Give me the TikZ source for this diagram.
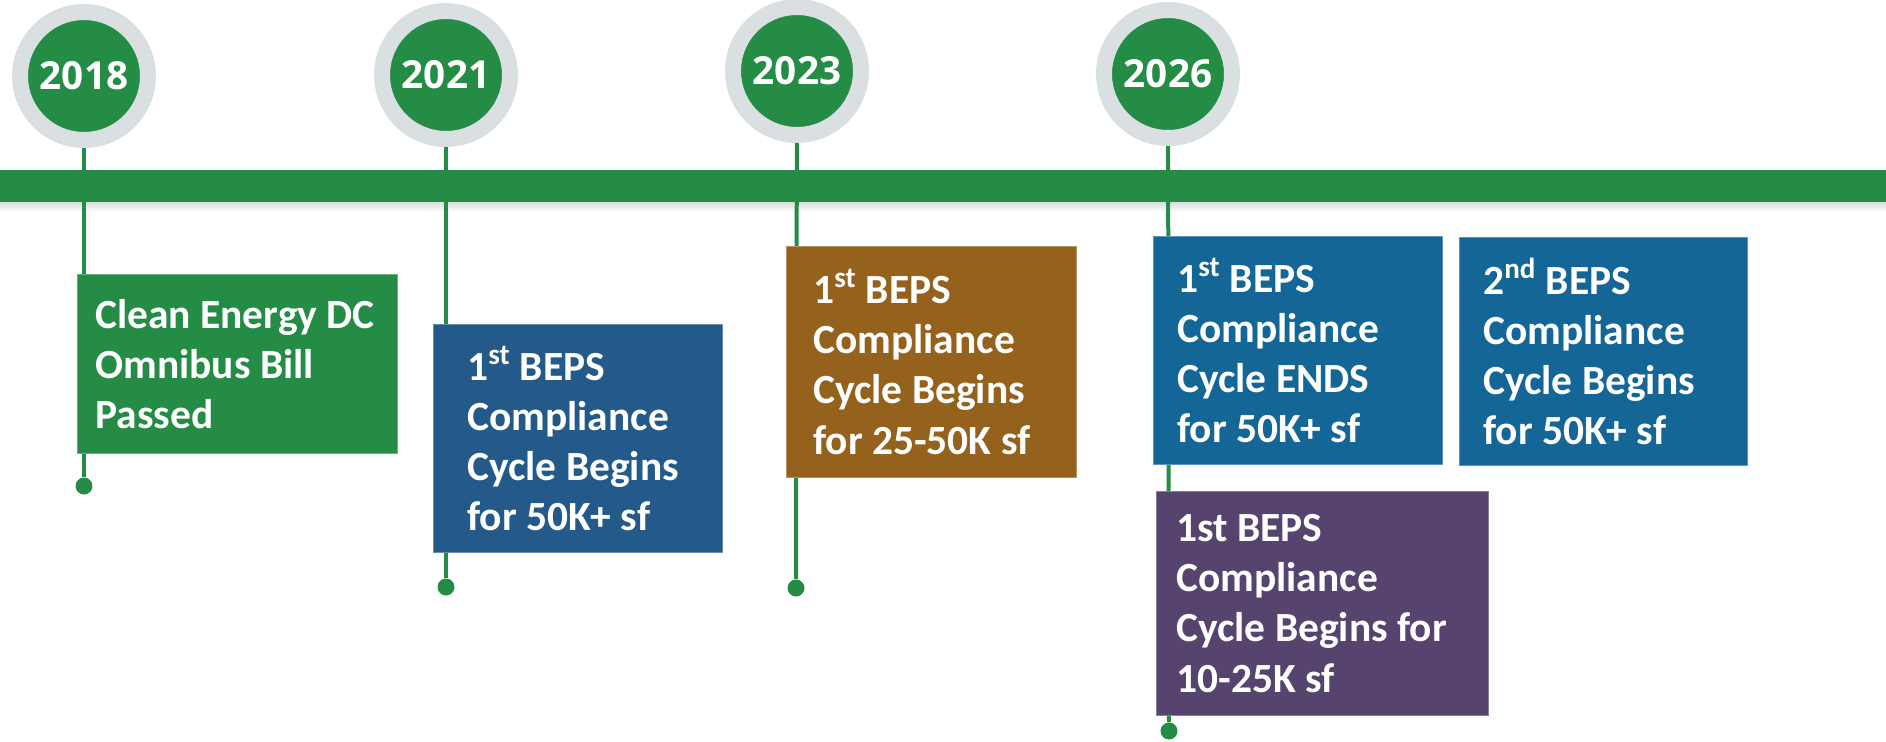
\documentclass[tikz,border=0pt]{standalone}
\usepackage{fontspec}
\setmainfont{Carlito}
\newfontfamily\yearfont{Open Sans}
\usepackage{tikz}
\usetikzlibrary{positioning, backgrounds}

\definecolor{tlgreen}{HTML}{258C45}
\definecolor{ringgray}{HTML}{DADFE1}
\definecolor{evblue}{HTML}{245A8A}
\definecolor{evbrown}{HTML}{95621D}
\definecolor{evsky}{HTML}{146697}
\definecolor{evpurple}{HTML}{56446F}

\begin{document}
\begin{tikzpicture}[x=0.02cm, y=-0.02cm,
  year/.style={circle, fill=tlgreen, draw=ringgray, line width=0.32cm, minimum size=2.56cm,
    inner sep=0pt, text=white, font=\yearfont\bfseries\fontsize{22}{22}\selectfont},
  evbox/.style={rectangle, anchor=north west, inner sep=0pt, line width=0.02cm},
  evtext/.style={align=left, inner sep=0pt, text=white,
    font=\bfseries\fontsize{23.6}{28.5}\selectfont},
  enddot/.style={circle, fill=tlgreen, minimum size=0.34cm, inner sep=0pt},
  stem/.style={draw=tlgreen, line width=0.08cm}]

% Fix the frame
\useasboundingbox (0,0) rectangle (1886,741);

% Draw the timeline bar
\fill[tlgreen] (0,170) rectangle (1886,202);

% Year markers
\node[year] (y2018) at (84,76) {2018};
\node[year] (y2021) at (446,75) {2021};
\node[year] (y2023) at (797,71) {2023};
\node[year] (y2026) at (1168,74) {2026};

% Event boxes
\node[evbox, fill=tlgreen, draw=tlgreen!70!white, minimum width=6.40cm, minimum height=3.58cm] (ev2018) at (77,274) {};
\node[evbox, fill=evblue, draw=evblue!70!white, minimum width=5.78cm, minimum height=4.56cm] (ev2021) at (433,324) {};
\node[evbox, fill=evbrown, draw=evbrown!70!white, minimum width=5.80cm, minimum height=4.62cm] (ev2023) at (786,246) {};
\node[evbox, fill=evsky, draw=evsky!70!white, minimum width=5.78cm, minimum height=4.56cm] (ev2026a) at (1153,236) {};
\node[evbox, fill=evsky, draw=evsky!70!white, minimum width=5.76cm, minimum height=4.56cm] (ev2026b) at (1459,237) {};
\node[evbox, fill=evpurple, draw=evpurple!70!white, minimum width=6.64cm, minimum height=4.48cm] (ev2026c) at (1156,491) {};

% Box texts
\node[evtext, right=0.36cm of ev2018.west] (tx2018) {Clean Energy DC\\Omnibus Bill\\Passed};
\node[evtext, right=0.68cm of ev2021.west] (tx2021) {1\textsuperscript{st} BEPS\\Compliance\\Cycle Begins\\for 50K+ sf};
\node[evtext, right=0.54cm of ev2023.west] (tx2023) {1\textsuperscript{st} BEPS\\Compliance\\Cycle Begins\\for 25-50K sf};
\node[evtext, right=0.48cm of ev2026a.west] (tx2026a) {1\textsuperscript{st} BEPS\\Compliance\\Cycle ENDS\\for 50K+ sf};
\node[evtext, right=0.48cm of ev2026b.west] (tx2026b) {2\textsuperscript{nd} BEPS\\Compliance\\Cycle Begins\\for 50K+ sf};
\node[evtext, right=0.40cm of ev2026c.west] (tx2026c) {1st BEPS\\Compliance\\Cycle Begins for\\10-25K sf};

% End dots
\node[enddot] (d2018) at (84,486) {};
\node[enddot] (d2021) at (446,587) {};
\node[enddot] (d2023) at (796,588) {};
\node[enddot] (d2026) at (1169,731) {};

% Stems and bar shadow behind everything
\begin{scope}[on background layer]
\shade[top color=black!14, bottom color=white] (0,202) rectangle (1886,212);
\draw[stem] (y2018) -- (d2018);
\draw[stem] (y2021) -- (d2021);
\draw[stem] (y2023) -- (d2023);
\draw[stem] (y2026) -- (d2026);
\end{scope}

\end{tikzpicture}
\end{document}
